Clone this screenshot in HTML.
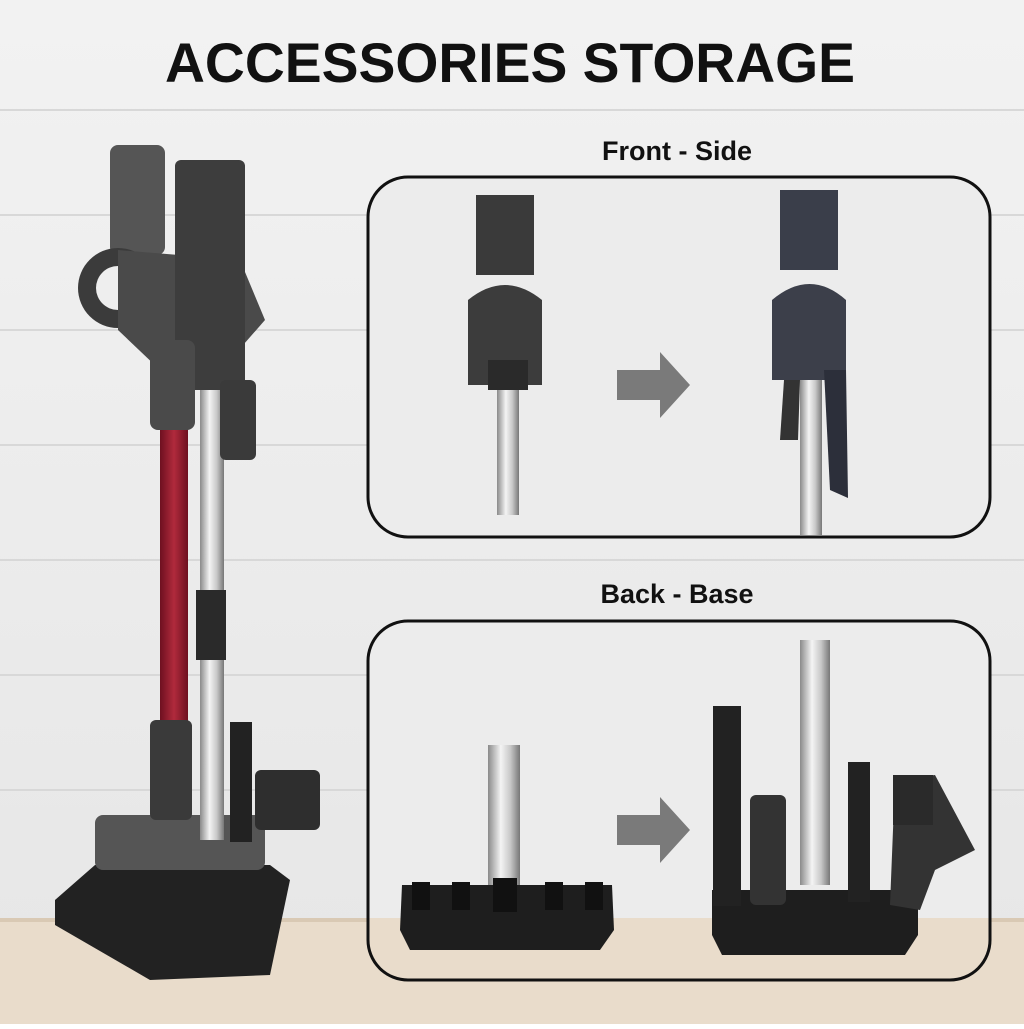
<!DOCTYPE html>
<html><head><meta charset="utf-8"><style>
body{margin:0;width:1024px;height:1024px;overflow:hidden;font-family:"Liberation Sans",sans-serif}
</style></head><body>
<svg width="1024" height="1024" viewBox="0 0 1024 1024" xmlns="http://www.w3.org/2000/svg">
<defs>
<linearGradient id="wall" x1="0" y1="0" x2="0" y2="1"><stop offset="0" stop-color="#f2f2f2"/><stop offset="1" stop-color="#e6e6e6"/></linearGradient>
<linearGradient id="metal" x1="0" y1="0" x2="1" y2="0"><stop offset="0" stop-color="#8a8a8a"/><stop offset=".4" stop-color="#f4f4f4"/><stop offset=".7" stop-color="#c8c8c8"/><stop offset="1" stop-color="#777"/></linearGradient>
<linearGradient id="red" x1="0" y1="0" x2="1" y2="0"><stop offset="0" stop-color="#6e1020"/><stop offset=".5" stop-color="#b02a3c"/><stop offset="1" stop-color="#6e1020"/></linearGradient>
<clipPath id="b2"><rect x="368" y="621" width="622" height="359" rx="40"/></clipPath>
</defs>
<rect width="1024" height="1024" fill="url(#wall)"/>
<g stroke="#d8d8d8" stroke-width="2">
<line x1="0" y1="110" x2="1024" y2="110"/><line x1="0" y1="215" x2="1024" y2="215"/><line x1="0" y1="330" x2="1024" y2="330"/><line x1="0" y1="445" x2="1024" y2="445"/><line x1="0" y1="560" x2="1024" y2="560"/><line x1="0" y1="675" x2="1024" y2="675"/><line x1="0" y1="790" x2="1024" y2="790"/></g>
<rect y="918" width="1024" height="106" fill="#e9dccb"/>
<rect y="918" width="1024" height="4" fill="#d9c9b4"/>
<text x="510" y="82" text-anchor="middle" font-size="56" font-weight="bold" fill="#111" textLength="690" lengthAdjust="spacingAndGlyphs">ACCESSORIES STORAGE</text>
<text x="677" y="160" text-anchor="middle" font-size="27" font-weight="bold" fill="#111">Front - Side</text>
<text x="677" y="603" text-anchor="middle" font-size="27" font-weight="bold" fill="#111">Back - Base</text>
<rect x="368" y="177" width="622" height="360" rx="40" fill="#ececec"/>
<rect x="368" y="621" width="622" height="359" rx="40" fill="#ececec"/>
<rect x="368" y="918" width="622" height="62" fill="#e9dccb" clip-path="url(#b2)"/>
<!-- vacuum -->
<path d="M55 900 L95 865 L270 865 L290 880 L270 975 L150 980 L55 925Z" fill="#222"/>
<rect x="95" y="815" width="170" height="55" rx="8" fill="#555"/>
<rect x="160" y="400" width="28" height="330" fill="url(#red)"/>
<rect x="200" y="390" width="24" height="450" fill="url(#metal)"/>
<rect x="196" y="590" width="30" height="70" fill="#2a2a2a"/>
<rect x="150" y="720" width="42" height="100" rx="6" fill="#3a3a3a"/>
<rect x="110" y="145" width="55" height="110" rx="8" fill="#555"/>
<circle cx="118" cy="288" r="40" fill="#3b3b3b"/>
<circle cx="118" cy="288" r="22" fill="#eee"/>
<path d="M118 250 L240 260 L265 320 L230 360 L160 370 L118 330Z" fill="#4a4a4a"/>
<rect x="175" y="160" width="70" height="230" rx="6" fill="#3d3d3d"/>
<rect x="150" y="340" width="45" height="90" rx="8" fill="#4a4a4a"/>
<rect x="220" y="380" width="36" height="80" rx="6" fill="#3a3a3a"/>
<rect x="230" y="722" width="22" height="120" fill="#222"/>
<rect x="255" y="770" width="65" height="60" rx="6" fill="#2e2e2e"/>
<!-- panel 1 -->
<rect x="497" y="360" width="22" height="155" fill="url(#metal)"/>
<rect x="476" y="195" width="58" height="80" fill="#3a3a3a"/>
<path d="M468 300 Q505 270 542 300 L542 385 L468 385Z" fill="#3c3c3c"/>
<rect x="488" y="360" width="40" height="30" fill="#2a2a2a"/>
<path d="M617 370 L660 370 L660 352 L690 385 L660 418 L660 400 L617 400Z" fill="#7a7a7a"/>
<rect x="800" y="360" width="22" height="175" fill="url(#metal)"/>
<rect x="780" y="190" width="58" height="80" fill="#3a3e4a"/>
<path d="M772 300 Q810 268 846 300 L846 380 L772 380Z" fill="#3c3f4a"/>
<path d="M824 370 L846 370 L848 498 L830 490Z" fill="#2c2f3a"/>
<path d="M784 380 L800 380 L798 440 L780 440Z" fill="#333"/>
<!-- panel 2 -->
<rect x="488" y="745" width="32" height="140" fill="url(#metal)"/>
<path d="M402 885 L612 885 L614 930 L600 950 L410 950 L400 930Z" fill="#1e1e1e"/>
<g fill="#111"><rect x="412" y="882" width="18" height="28"/><rect x="452" y="882" width="18" height="28"/><rect x="493" y="878" width="24" height="34"/><rect x="545" y="882" width="18" height="28"/><rect x="585" y="882" width="18" height="28"/></g>
<path d="M617 815 L660 815 L660 797 L690 830 L660 863 L660 845 L617 845Z" fill="#7a7a7a"/>
<rect x="800" y="640" width="30" height="245" fill="url(#metal)"/>
<path d="M712 890 L918 890 L918 935 L905 955 L722 955 L712 935Z" fill="#1e1e1e"/>
<rect x="713" y="706" width="28" height="200" fill="#222"/>
<rect x="750" y="795" width="36" height="110" rx="6" fill="#333"/>
<rect x="848" y="762" width="22" height="140" fill="#222"/>
<path d="M895 780 L935 775 L975 850 L935 870 L920 910 L890 905Z" fill="#333"/>
<rect x="893" y="775" width="40" height="50" fill="#2a2a2a"/>
<rect x="368" y="177" width="622" height="360" rx="40" fill="none" stroke="#111" stroke-width="3"/>
<rect x="368" y="621" width="622" height="359" rx="40" fill="none" stroke="#111" stroke-width="3"/>
</svg>
</body></html>
